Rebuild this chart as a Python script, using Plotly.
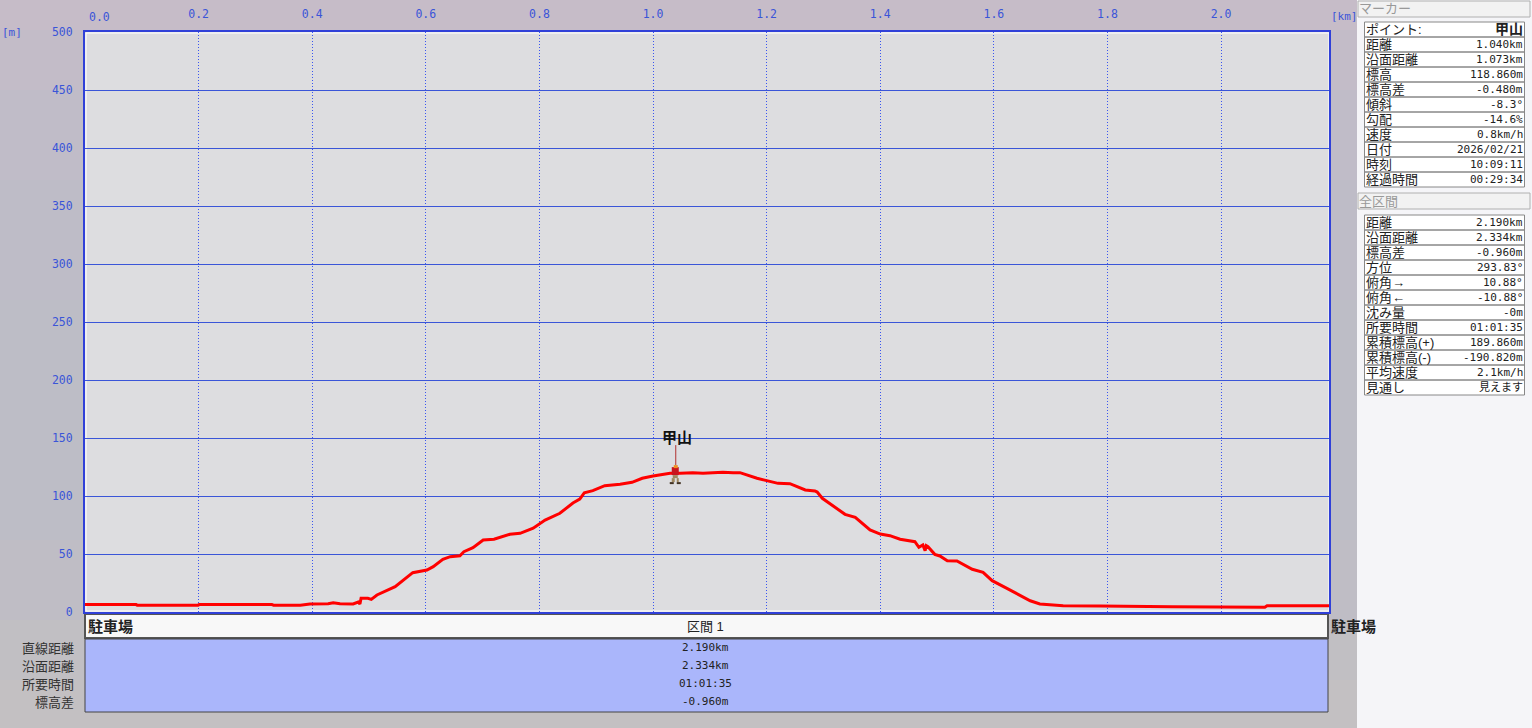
import plotly.graph_objects as go

W, H = 1532, 728

distance_km = [0, .012, .014, .090, .092, .199, .201, .329, .332, .379, .396, .428, .437, .449, .472, .481, .484, .486, .498, .504,
               .514, .546, .577, .602, .613, .630, .643, .660, .667, .683, .701, .720, .748, .766, .789, .810, .836, .859, .871, .879,
               .894, .915, .942, .963, .981, 1.000, 1.030, 1.048, 1.070, 1.088, 1.123, 1.141, 1.153, 1.183, 1.201, 1.220, 1.241, 1.268, 1.285, 1.289,
               1.298, 1.338, 1.356, 1.382, 1.400, 1.417, 1.435, 1.461, 1.468, 1.475, 1.479, 1.481, 1.484, 1.496, 1.505, 1.518, 1.535, 1.562, 1.581, 1.597,
               1.623, 1.664, 1.681, 1.722, 1.787, 1.910, 1.914, 2.077, 2.081, 2.190]
elevation_m = [6.5, 6.0, 6.5, 6.4, 5.9, 5.9, 6.4, 6.4, 5.9, 5.9, 6.9, 7.1, 7.9, 7.2, 6.9, 8.6, 6.9, 11.8, 11.8, 10.9,
               14.7, 21.8, 33.9, 36.2, 39.1, 45.4, 47.7, 48.5, 52.0, 55.4, 62.1, 62.7, 67.0, 67.8, 72.2, 79.3, 85.1, 94.0, 97.4, 102.8,
               104.6, 108.9, 110.1, 111.8, 115.3, 117.2, 119.6, 119.6, 120.1, 119.6, 120.4, 120.1, 120.1, 115.3, 112.9, 110.9, 110.6, 105.2, 104.3, 103.4,
               98.0, 84.2, 81.6, 70.7, 67.2, 65.8, 62.7, 60.6, 55.8, 57.8, 52.8, 57.2, 56.3, 49.7, 48.3, 44.2, 44.0, 36.8, 34.2, 27.0,
               20.4, 9.7, 6.9, 5.4, 5.2, 5.2, 4.6, 4.1, 5.4, 5.4]

x_ticks = [0.2, 0.4, 0.6, 0.8, 1.0, 1.2, 1.4, 1.6, 1.8, 2.0]
y_ticks = [0, 50, 100, 150, 200, 250, 300, 350, 400, 450, 500]

marker_name = "甲山"
marker_km = 1.04
marker_m = 118.86

marker_labels = ["距離", "沿面距離", "標高", "標高差", "傾斜", "勾配", "速度", "日付", "時刻", "経過時間"]
marker_values = ["1.040km", "1.073km", "118.860m", "-0.480m", "-8.3°", "-14.6%", "0.8km/h", "2026/02/21", "10:09:11", "00:29:34"]
total_labels = ["距離", "沿面距離", "標高差", "方位", "俯角→", "俯角←", "沈み量", "所要時間", "累積標高(+)", "累積標高(-)", "平均速度", "見通し"]
total_values = ["2.190km", "2.334km", "-0.960m", "293.83°", "10.88°", "-10.88°", "-0m", "01:01:35", "189.860m", "-190.820m", "2.1km/h", "見えます"]
section_labels = ["直線距離", "沿面距離", "所要時間", "標高差"]
section_values = ["2.190km", "2.334km", "01:01:35", "-0.960m"]

FONT = "Noto Sans CJK JP"
LABEL = "Liberation Sans, Noto Sans CJK JP"
MONO = "DejaVu Sans Mono, Noto Sans CJK JP"
BLUE = "#3a55d8"
DARK = "#222222"

def px(x):
    return x / W

def py(y):
    return 1 - y / H

shapes, annots = [], []

def rect(x0, y0, x1, y1, fill=None, line=None, width=1):
    shapes.append(dict(type="rect", xref="paper", yref="paper", x0=px(x0), x1=px(x1), y0=py(y1), y1=py(y0),
                       fillcolor=fill or "rgba(0,0,0,0)", line=dict(color=line or "rgba(0,0,0,0)", width=width if line else 0),
                       layer="below"))

def text(x, y, s, anchor="left", size=13, color=DARK, bold=False, family=LABEL):
    annots.append(dict(xref="paper", yref="paper", x=px(x), y=py(y), text=f"<b>{s}</b>" if bold else s,
                       showarrow=False, xanchor=anchor, yanchor="middle",
                       font=dict(family=family, size=size, color=color), borderpad=0, borderwidth=0))

# page panels
page_bands = [(0, 30, "#c6bcc8"), (30, 90, "#c3bcc8"), (90, 180, "#c0bcc8"), (180, 300, "#bebcc7"), (300, 540, "#bdbdc6"),
              (540, 620, "#bfbdc5"), (620, 680, "#c1bfc3"), (680, 728, "#c3c0c2")]
for top, bottom, colour in page_bands:
    rect(0, top, 1357, bottom, fill=colour)
rect(1357, 0, W, H, fill="#f5f5f8")
rect(85, 32, 1329, 612, fill="#dddde0")
rect(86, 33, 1329, 611, line="#ffffff")
# section band
rect(85, 614, 1328, 638, fill="#f8f8f8", line="#555555", width=2)
rect(85, 639, 1328, 712, fill="#aab6fb", line="#444444", width=1)
text(705, 626, "区間 1", "center")
for i, (lab, val) in enumerate(zip(section_labels, section_values)):
    yy = 648 + i * 18.2
    text(74, yy, lab, "right", color="#333333")
    text(705, yy - 1, val, "center", size=11, family=MONO)
text(88, 625, "駐車場", "left", size=15, bold=True, family=FONT)
text(1331, 625, "駐車場", "left", size=15, bold=True, family=FONT)

# right tables
def header(y0, s):
    rect(1358, y0, 1530, y0 + 16, fill="#f2f2f2", line="#b0b0b0")
    text(1359, y0 + 8, s, "left", color="#999999")

def table(y0, rows):
    rect(1364.5, y0, 1524.5, y0 + 15 * len(rows), fill="#ffffff", line="#888888")
    for i, (lab, val, bold) in enumerate(rows):
        yy = y0 + 15 * i
        if i:
            rect(1364.5, yy, 1524.5, yy, line="#888888")
        text(1366, yy + 7.5, lab)
        text(1522.5, yy + 7.5, val, "right", size=14 if bold else 11, bold=bold, family=LABEL if bold else MONO)

header(1, "マーカー")
table(22, [("ポイント:", marker_name, True)] + [(a, b, False) for a, b in zip(marker_labels, marker_values)])
header(193, "全区間")
table(215, [(a, b, False) for a, b in zip(total_labels, total_values)])

# axis extras
text(89, 17, "0.0", "left", size=11.5, color=BLUE, family=MONO)
text(1331, 16, "[km]", "left", size=11, color=BLUE, family=MONO)
text(2, 33, "[m]", "left", size=11, color=BLUE, family=MONO)

# marker pin and hiker, anchored on the marker's data position
def pin(x0, x1, y0, y1, color, kind="rect", width=0):
    shapes.append(dict(type=kind, xref="x", yref="y", xsizemode="pixel", ysizemode="pixel",
                       xanchor=marker_km, yanchor=marker_m, x0=x0, x1=x1, y0=y0, y1=y1,
                       fillcolor=color, line=dict(color=color, width=width), layer="above"))

pin(0, 0, 9, 29, "#b03030", "line", 1)
pin(-4, 3, -1, 7, "#c8141e")
pin(-2, 2, 6, 9, "#f09020")
pin(-3, 2, -4, -1, "#a08860")
pin(-4, -1, -8, -4, "#a08860")
pin(1, 3, -8, -4, "#a08860")
pin(-6, -2, -10, -8, "#403020")
pin(1, 5, -10, -8, "#403020")
annots.append(dict(x=marker_km, y=marker_m, xref="x", yref="y", text=f"<b>{marker_name}</b>", showarrow=False,
                   xanchor="center", yanchor="middle", yshift=38, xshift=1,
                   font=dict(family=FONT, size=15, color="#111111")))

fig = go.Figure()
fig.add_trace(go.Scatter(x=distance_km, y=elevation_m, mode="lines", line=dict(color="#ff0000", width=3), hoverinfo="skip", showlegend=False))

fig.update_layout(
    width=W, height=H, margin=dict(l=0, r=0, t=0, b=0), autosize=False,
    paper_bgcolor="#bdbdc6", plot_bgcolor="rgba(0,0,0,0)", showlegend=False,
    font=dict(family=FONT, size=12, color=BLUE),
    shapes=shapes, annotations=annots,
    xaxis=dict(domain=[px(85), px(1329)], range=[0, 2.19], side="top", tickvals=x_ticks, ticktext=[f"{v:.1f}" for v in x_ticks],
               showgrid=True, gridcolor="#3a55f0", griddash="1px,2px", gridwidth=1, zeroline=False, automargin=False,
               showline=True, linecolor="#3040d8", linewidth=2, mirror=True, ticks="", ticklabelstandoff=7,
               tickfont=dict(family=MONO, size=11.5, color=BLUE)),
    yaxis=dict(domain=[py(612), py(32)], range=[0, 500], tickvals=y_ticks,
               showgrid=True, gridcolor="#3a55d8", griddash="solid", gridwidth=1, zeroline=False, automargin=False,
               showline=True, linecolor="#3040d8", linewidth=2, mirror=True, ticks="", ticklabelstandoff=8,
               tickfont=dict(family=MONO, size=11.5, color=BLUE)),
)
fig.write_html("out.html", config=dict(displayModeBar=False), post_script="document.body.style.margin='0';")
